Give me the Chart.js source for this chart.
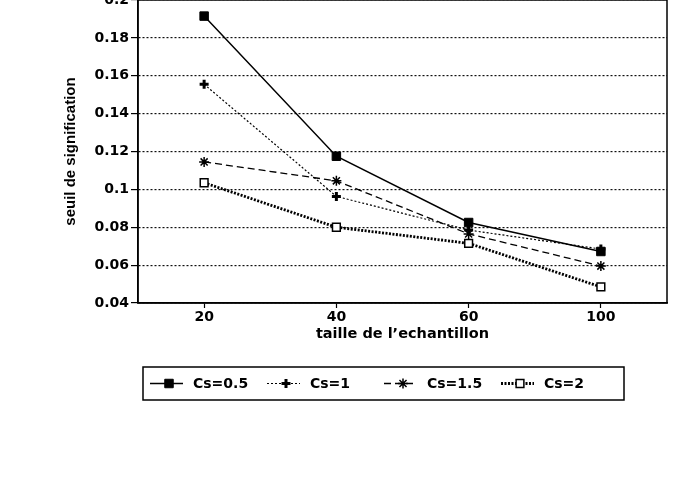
<!DOCTYPE html>
<html lang="fr">
<head>
<meta charset="UTF-8">
<title>seuil de signification</title>
<script src="https://cdn.jsdelivr.net/npm/chart.js@4.4.0/dist/chart.umd.min.js"></script>
<style>
  html, body { margin: 0; padding: 0; background: #fff; }
  .page { position: relative; width: 676px; height: 485px; overflow: hidden; background: #fff; }
  #chart { position: absolute; left: 0; top: -20px; }
</style>
</head>
<body>
<div class="page">
  <canvas id="chart" width="676" height="425"></canvas>
</div>
<script>
// données
const categories = ['20', '40', '60', '100'];
const seriesNames = ['Cs=0.5', 'Cs=1', 'Cs=1.5', 'Cs=2'];
const cs05 = [0.1915, 0.1175, 0.0825, 0.0672];
const cs1  = [0.1555, 0.0963, 0.0785, 0.0685];
const cs15 = [0.1145, 0.1045, 0.0765, 0.0595];
const cs2  = [0.1035, 0.0800, 0.0715, 0.0485];
const yMin = 0.04, yMax = 0.2, yStep = 0.02;

const tickFont = { family: '"DejaVu Sans", sans-serif', size: 14, weight: 'bold' };

// cadre autour de la zone de tracé
const plotFrame = {
  id: 'plotFrame',
  beforeDatasetsDraw(chart) {
    const { ctx, chartArea: a } = chart;
    ctx.save();
    ctx.strokeStyle = '#000';
    ctx.lineWidth = 1.5;
    ctx.strokeRect(a.left, a.top, a.right - a.left, a.bottom - a.top);
    ctx.restore();
  }
};

// légende avec trait + marqueur, comme dans l'original
const lineLegend = {
  id: 'lineLegend',
  afterDraw(chart) {
    const ctx = chart.ctx;
    const left = 143, top = 387, w = 481, h = 33;
    const cy = top + h / 2;
    ctx.save();
    ctx.strokeStyle = '#000';
    ctx.lineWidth = 1.5;
    ctx.strokeRect(left, top, w, h);
    chart.data.datasets.forEach((ds, i) => {
      const x0 = left + 7 + i * 117;
      ctx.save();
      ctx.setLineDash(ds.borderDash || []);
      ctx.lineWidth = ds.borderWidth;
      ctx.strokeStyle = ds.borderColor;
      ctx.beginPath();
      ctx.moveTo(x0, cy);
      ctx.lineTo(x0 + 33, cy);
      ctx.stroke();
      ctx.restore();

      ctx.save();
      ctx.fillStyle = ds.pointBackgroundColor;
      ctx.strokeStyle = ds.pointBorderColor;
      ctx.lineWidth = ds.pointBorderWidth;
      if (Chart.helpers && Chart.helpers.drawPoint) {
        Chart.helpers.drawPoint(ctx, {
          pointStyle: ds.pointStyle, radius: ds.pointRadius,
          borderWidth: ds.pointBorderWidth, rotation: 0
        }, x0 + 19, cy);
      } else {
        ctx.fillRect(x0 + 15, cy - 4, 8, 8);
      }
      ctx.restore();

      ctx.fillStyle = '#000';
      ctx.font = 'bold 14px "DejaVu Sans", sans-serif';
      ctx.textBaseline = 'middle';
      ctx.textAlign = 'left';
      ctx.fillText(ds.label, x0 + 43, cy + 1);
    });
    ctx.restore();
  }
};

const ctx = document.getElementById('chart').getContext('2d');

new Chart(ctx, {
  type: 'line',
  data: {
    labels: categories,
    datasets: [
      {
        label: seriesNames[0], data: cs05,
        borderColor: '#000', borderWidth: 1.5, borderDash: [],
        pointStyle: 'rect', pointRadius: 6, pointBorderWidth: 1,
        pointBackgroundColor: '#000', pointBorderColor: '#000'
      },
      {
        label: seriesNames[1], data: cs1,
        borderColor: '#000', borderWidth: 1.2, borderDash: [2, 2],
        pointStyle: 'cross', pointRadius: 4.5, pointBorderWidth: 3,
        pointBackgroundColor: '#000', pointBorderColor: '#000'
      },
      {
        label: seriesNames[2], data: cs15,
        borderColor: '#000', borderWidth: 1.3, borderDash: [7, 4],
        pointStyle: 'star', pointRadius: 5, pointBorderWidth: 1.5,
        pointBackgroundColor: '#000', pointBorderColor: '#000'
      },
      {
        label: seriesNames[3], data: cs2,
        borderColor: '#000', borderWidth: 2.8, borderDash: [2, 1.5],
        pointStyle: 'rect', pointRadius: 5.5, pointBorderWidth: 1.5,
        pointBackgroundColor: '#fff', pointBorderColor: '#000'
      }
    ]
  },
  options: {
    responsive: false,
    animation: false,
    events: [],
    layout: { padding: { top: 20, right: 9, bottom: 42, left: 0 } },
    plugins: {
      legend: { display: false },
      tooltip: { enabled: false }
    },
    elements: { line: { tension: 0, fill: false } },
    scales: {
      x: {
        offset: true,
        grid: { drawOnChartArea: false, drawTicks: true, tickLength: 5, tickColor: '#000', tickWidth: 1.2 },
        border: { color: '#000', width: 1.5 },
        ticks: { color: '#000', font: tickFont, padding: 1, maxRotation: 0 },
        title: {
          display: true, text: 'taille de l’echantillon', color: '#000',
          font: { family: '"DejaVu Sans", sans-serif', size: 14.5, weight: 'bold' },
          padding: { top: 0, bottom: 20 }
        },
        afterFit(scale) { scale.height = 60; }
      },
      y: {
        min: yMin, max: yMax,
        grid: { color: '#111', lineWidth: 1.2, drawTicks: true, tickLength: 7, tickColor: '#000', tickWidth: 1.2, tickBorderDash: [] },
        border: { color: '#000', width: 1.5, dash: [2, 2] },
        ticks: {
          stepSize: yStep, color: '#000', font: tickFont, padding: 2,
          callback: (v) => String(+v.toFixed(2))
        },
        title: {
          display: true, text: 'seuil de signification', color: '#000',
          font: { family: '"Liberation Sans", Arial, sans-serif', size: 15, weight: 'bold' },
          padding: { top: 62, bottom: 0 }
        },
        afterFit(scale) { scale.width = 138; }
      }
    }
  },
  plugins: [plotFrame, lineLegend]
});
</script>
</body>
</html>
